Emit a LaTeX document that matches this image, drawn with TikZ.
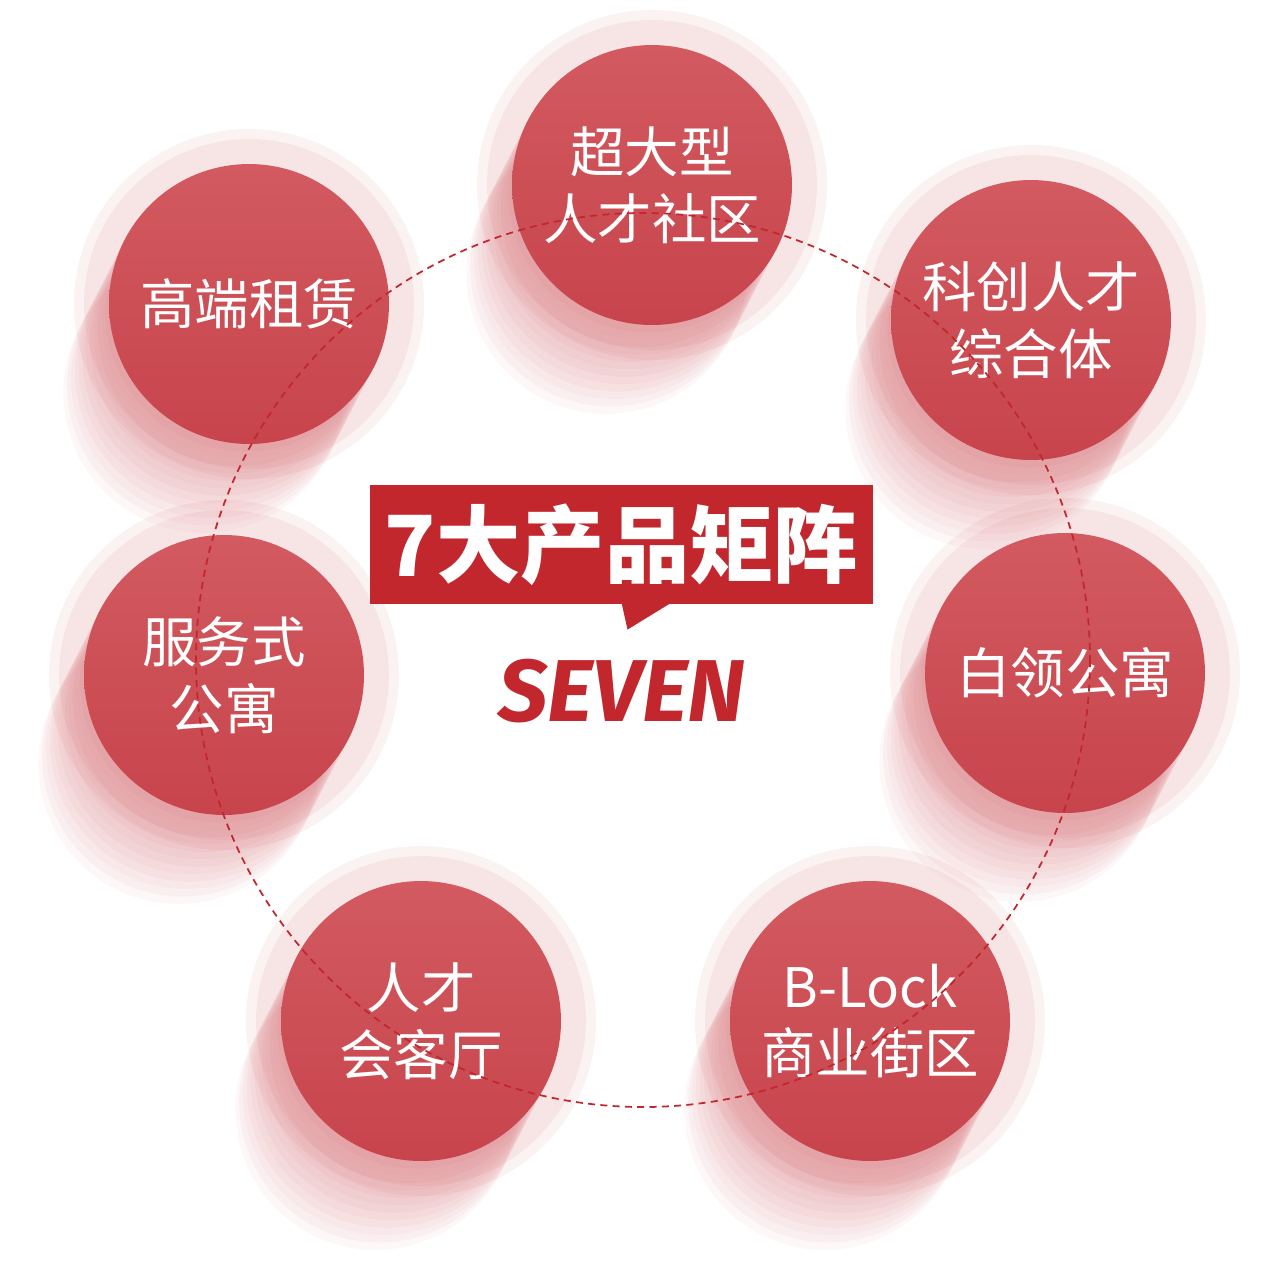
\documentclass[tikz,border=0pt]{standalone}
\usepackage{fontspec}
\setmainfont{Noto Sans CJK SC}
\newfontfamily\sevenfont{Fira Sans}
\usetikzlibrary{positioning}
\definecolor{matrixred}{RGB}{193,39,45}
\definecolor{bubblered}{RGB}{200,68,76}
\definecolor{bubbletop}{RGB}{210,90,96}
\begin{document}
\begin{tikzpicture}[x=0.02cm, y=-0.02cm,
        bubble/.style={circle, minimum size=5.6cm, inner sep=0pt, top color=bubbletop, bottom color=bubblered, text=white, align=center, font=\fontsize{31}{38}\selectfont},
        halo/.style={fill=bubblered, fill opacity=0.07},
        longshadow/.style={fill=bubblered, fill opacity=0.045},
        ring/.style={draw=matrixred, line width=1pt, dash pattern=on 4pt off 3pt},
        banner/.style={fill=matrixred, text=white, inner sep=0pt, minimum width=10.06cm, minimum height=2.38cm, font=\bfseries\fontsize{48}{48}\selectfont},
        seven/.style={text=matrixred, inner sep=0pt, font=\sevenfont\bfseries\itshape\fontsize{50}{50}\selectfont}]
                \useasboundingbox (0,0) rectangle (1280,1279);
                \foreach \n/\px/\py in {1/652/185, 2/1031/320, 3/1065/673, 4/870/1021, 5/421/1021, 6/224/675, 7/249/304}
                        \coordinate (c\n) at (\px,\py);
                \coordinate (o) at (643,660);
                \foreach \n in {1,...,7}
                        \foreach \k in {1,...,12}
                                \fill[longshadow, shift={(c\n)}] (-3.8*\k,7.4*\k) circle[radius=140];
                \foreach \n in {1,...,7} {
                        \fill[halo] (c\n) circle[radius=175];
                        \fill[halo] (c\n) circle[radius=165];
                }
                \node[bubble] (1) at (c1) {超大型\\人才社区};
                \node[bubble] (2) at (c2) {科创人才\\综合体};
                \node[bubble] (3) at (c3) {白领公寓};
                \node[bubble] (4) at (c4) {B-Lock\\商业街区};
                \node[bubble] (5) at (c5) {人才\\会客厅};
                \node[bubble] (6) at (c6) {服务式\\公寓};
                \node[bubble] (7) at (c7) {高端租赁};
                \draw[ring] (o) circle[radius=447];
                \node[banner] (0) at (621.5,544.5) {7大产品矩阵};
                \fill[matrixred] ([yshift=1pt]0.south) -- ++(50,0) -- ++(-44,27) -- cycle;
                \node[seven, below=1.08cm of 0] (8) {SEVEN};
    \end{tikzpicture}
\end{document}
